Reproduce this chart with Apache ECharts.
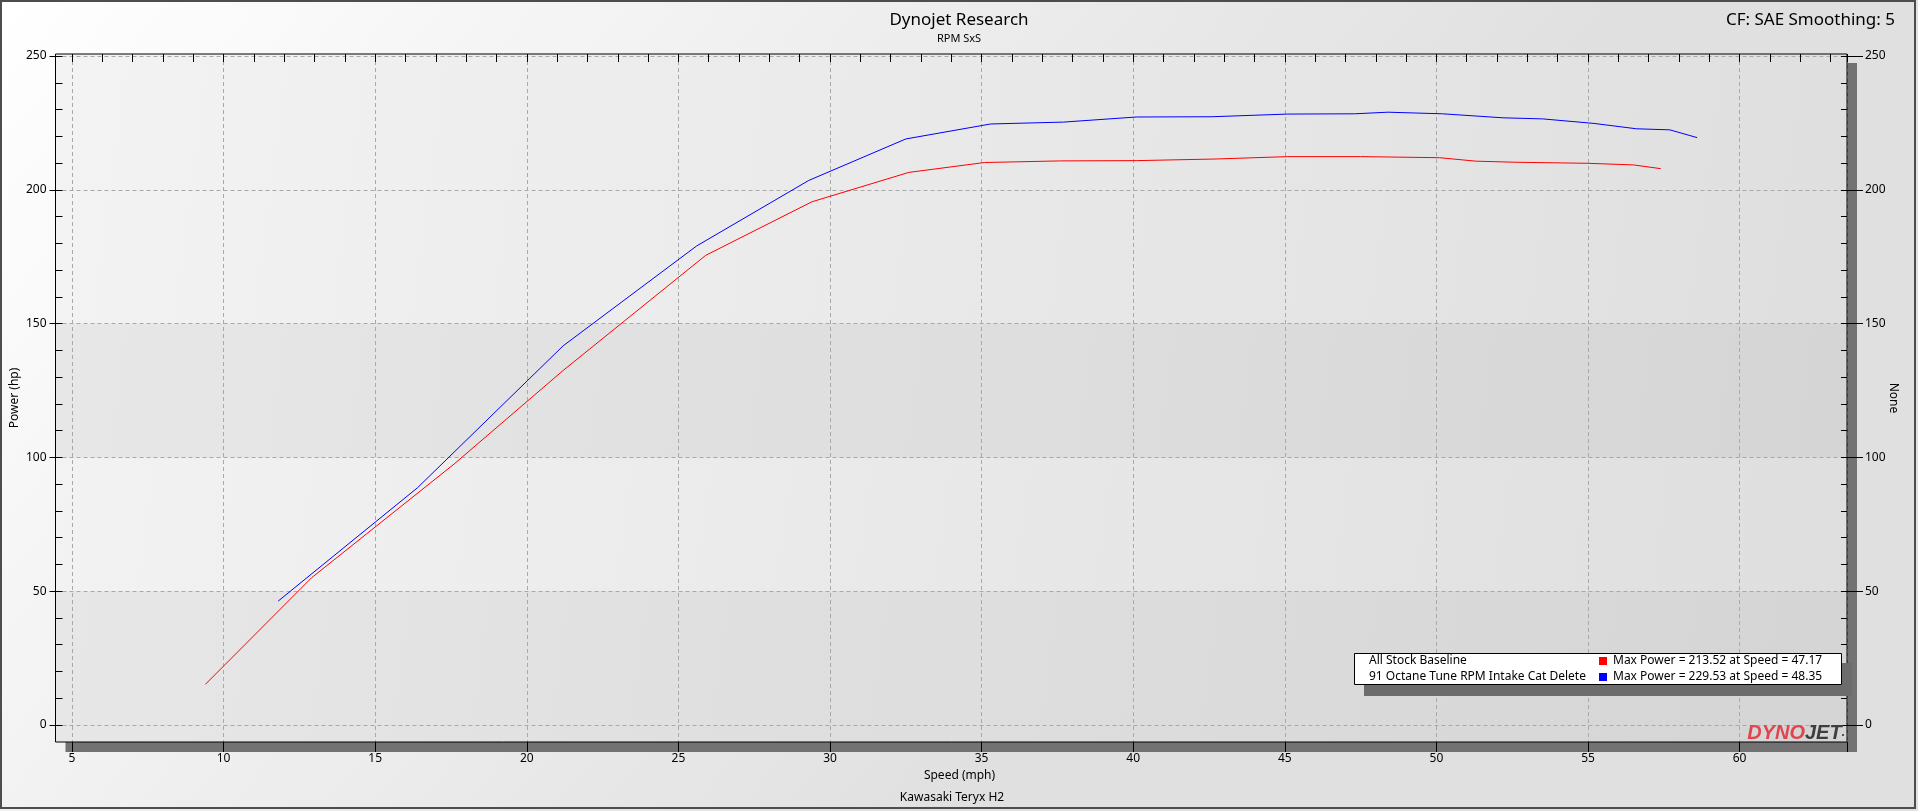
<!DOCTYPE html>
<html><head><meta charset="utf-8">
<script src="https://cdn.jsdelivr.net/npm/echarts@6/dist/echarts.min.js"></script>
<style>html,body{margin:0;padding:0;width:1918px;height:811px;overflow:hidden;}#c{width:1918px;height:811px;}</style>
</head><body><div id="c"></div>
<script>
// ---- data ----
const chartTitle = 'Dynojet Research';
const chartSubtitle = 'RPM SxS';
const cornerNote = 'CF: SAE Smoothing: 5';
const footerText = 'Kawasaki Teryx H2';
const xName = 'Speed (mph)';
const yName = 'Power (hp)';
const y2Name = 'None';
const seriesNames = ['All Stock Baseline', '91 Octane Tune RPM Intake Cat Delete'];
const maxNotes = ['Max Power = 213.52 at Speed = 47.17', 'Max Power = 229.53 at Speed = 48.35'];
const seriesColors = ['#ff0000', '#0000ff'];
const xTickLabels = [5, 10, 15, 20, 25, 30, 35, 40, 45, 50, 55, 60];
const yTickLabels = [0, 50, 100, 150, 200, 250];

const stockSpeed = [9.4, 12.9, 17.6, 21.2, 25.9, 29.4, 32.6, 35.1, 37.6, 40.1, 42.7, 45.1, 47.5, 50.1, 51.3, 52.6, 55.0, 56.5, 57.4];
const stockPower = [15.2, 55.0, 97.5, 132.5, 175.5, 195.5, 206.5, 210.2, 210.8, 210.9, 211.5, 212.4, 212.4, 212.0, 210.7, 210.3, 209.9, 209.3, 207.9];
const tuneSpeed = [11.8, 16.4, 21.2, 25.6, 29.3, 32.5, 35.3, 37.7, 40.1, 42.6, 45.1, 47.3, 48.4, 50.2, 52.2, 53.5, 55.2, 56.6, 57.7, 58.6];
const tunePower = [46.3, 88.7, 141.7, 179.0, 203.5, 219.0, 224.6, 225.3, 227.2, 227.3, 228.3, 228.4, 229.0, 228.4, 226.9, 226.5, 224.8, 222.8, 222.4, 219.5];

// ---- layout ----
const FONT = "'Noto Sans', 'Liberation Sans', sans-serif";
const PL = 55.5, PR = 1847, PT = 54, PB = 742;   // plot frame
const X5 = 72, PXU = 30.32;                      // x=5 position and px per mph
const YT = 56, YB = 725;                         // y=250 and y=0 positions
const xMaxV = 5 + (PR - X5) / PXU;
const xMinData = 5 - (X5 - PL) / PXU;

const zip = (a, b) => a.map((v, i) => [v, b[i]]);

const chart = echarts.init(document.getElementById('c'), null, { renderer: 'canvas' });

const dashed = { color: '#a9a9a9', width: 1, type: [4, 3] };
const DARK = 'rgba(0,0,0,0.045)', LIGHT = 'rgba(0,0,0,0)';

const option = {
  animation: false,
  backgroundColor: {
    type: 'linear', x: 0, y: 0, x2: 0.5, y2: 1,
    colorStops: [{ offset: 0, color: '#ffffff' }, { offset: 1, color: '#e0e0e0' }]
  },
  grid: [
    { left: X5, top: PT, width: PR - X5, height: PB - PT, containLabel: false },
    { left: PL, top: YT, width: PR - PL, height: YB - YT, containLabel: false }
  ],
  xAxis: [
    { gridIndex: 0, type: 'value', min: 5, max: xMaxV, interval: 5,
      axisLine: { show: false },
      axisTick: { show: true, inside: false, length: 10, lineStyle: { color: '#000', width: 1 } },
      axisLabel: { show: true, margin: 11, color: '#000', fontSize: 12, fontFamily: FONT,
        formatter: v => (xTickLabels.indexOf(Math.round(v)) >= 0 && Math.abs(v - Math.round(v)) < 1e-6) ? String(Math.round(v)) : '' },
      splitLine: { show: true, lineStyle: dashed },
      name: xName, nameLocation: 'middle', nameGap: 24,
      nameTextStyle: { color: '#000', fontSize: 12, fontFamily: FONT }
    },
    { gridIndex: 0, type: 'value', min: 5, max: xMaxV, interval: 1,
      axisLine: { show: false },
      axisTick: { show: true, inside: true, length: 8, lineStyle: { color: '#000', width: 1 } },
      axisLabel: { show: false }, splitLine: { show: false }
    },
    { gridIndex: 1, type: 'value', min: xMinData, max: xMaxV, show: false }
  ],
  yAxis: [
    { gridIndex: 0, type: 'value', min: 0, max: 1, show: false },
    { gridIndex: 1, type: 'value', position: 'left', min: 0, max: 250, interval: 50,
      axisLine: { show: false },
      axisTick: { show: true, inside: false, length: 6, lineStyle: { color: '#000' } },
      axisLabel: { show: true, margin: 9, color: '#000', fontSize: 12, fontFamily: FONT },
      splitLine: { show: true, lineStyle: dashed },
      splitArea: { show: true, areaStyle: { color: [DARK, LIGHT, DARK, LIGHT, LIGHT] } }
    },
    { gridIndex: 1, type: 'value', position: 'left', min: 0, max: 250, interval: 10,
      axisLine: { show: false },
      axisTick: { show: true, inside: true, length: 7, lineStyle: { color: '#000' } },
      axisLabel: { show: false }, splitLine: { show: false }
    },
    { gridIndex: 1, type: 'value', position: 'right', min: 0, max: 250, interval: 50,
      axisLine: { show: false },
      axisTick: { show: true, inside: false, length: 16, lineStyle: { color: '#000' } },
      axisLabel: { show: true, margin: 18, color: '#000', fontSize: 12, fontFamily: FONT },
      splitLine: { show: false }
    },
    { gridIndex: 1, type: 'value', position: 'right', min: 0, max: 250, interval: 10,
      axisLine: { show: false },
      axisTick: { show: true, inside: true, length: 6, lineStyle: { color: '#000' } },
      axisLabel: { show: false }, splitLine: { show: false }
    }
  ],
  series: [
    { name: seriesNames[0], type: 'line', xAxisIndex: 2, yAxisIndex: 1, data: zip(stockSpeed, stockPower),
      showSymbol: false, symbol: 'none', lineStyle: { color: seriesColors[0], width: 1 }, z: 5 },
    { name: seriesNames[1], type: 'line', xAxisIndex: 2, yAxisIndex: 1, data: zip(tuneSpeed, tunePower),
      showSymbol: false, symbol: 'none', lineStyle: { color: seriesColors[1], width: 1 }, z: 5 }
  ],
  graphic: [
    // outer border
    { type: 'rect', z: -20, shape: { x: 1, y: 1, width: 1914, height: 807 },
      style: { fill: 'none', stroke: '#4d4d4d', lineWidth: 2 } },
    // plot shadow
    { type: 'rect', z: -20, shape: { x: PL + 10, y: PT + 9, width: PR - PL, height: PB - PT + 1 },
      style: { fill: '#727272' } },
    // plot background
    { type: 'rect', z: -19, shape: { x: PL, y: PT, width: PR - PL, height: PB - PT },
      style: { fill: { type: 'linear', x: 0, y: 0, x2: 1, y2: 0.35, global: false,
        colorStops: [{ offset: 0, color: '#f3f3f3' }, { offset: 1, color: '#dfdfdf' }] } } },
    // bottom strip below zero continues the dark band
    { type: 'rect', z: -18, shape: { x: PL, y: YB, width: PR - PL, height: PB - YB },
      style: { fill: DARK } },
    // plot border
    { type: 'rect', z: 50, shape: { x: PL, y: PT, width: PR - PL, height: PB - PT },
      style: { fill: 'none', stroke: '#000', lineWidth: 1 } },
    // titles
    { type: 'text', z: 60, style: { text: chartTitle, x: 959, y: 20, textAlign: 'center', textVerticalAlign: 'middle',
      font: '17px ' + FONT, fill: '#000' } },
    { type: 'text', z: 60, style: { text: chartSubtitle, x: 959, y: 39, textAlign: 'center', textVerticalAlign: 'middle',
      font: '11px ' + FONT, fill: '#000' } },
    { type: 'text', z: 60, style: { text: cornerNote, x: 1895, y: 20, textAlign: 'right', textVerticalAlign: 'middle',
      font: '17px ' + FONT, fill: '#000' } },
    { type: 'text', z: 60, style: { text: footerText, x: 952, y: 798, textAlign: 'center', textVerticalAlign: 'middle',
      font: '12px ' + FONT, fill: '#000' } },
    { type: 'text', z: 60, x: 15, y: 398, rotation: Math.PI / 2,
      style: { text: yName, x: 0, y: 0, textAlign: 'center', textVerticalAlign: 'middle', font: '12px ' + FONT, fill: '#000' } },
    { type: 'text', z: 60, x: 1893, y: 398, rotation: -Math.PI / 2,
      style: { text: y2Name, x: 0, y: 0, textAlign: 'center', textVerticalAlign: 'middle', font: '12px ' + FONT, fill: '#000' } },
    // legend box
    { type: 'rect', z: 70, shape: { x: 1364, y: 663, width: 488, height: 33 }, style: { fill: '#6c6c6c' } },
    { type: 'rect', z: 71, shape: { x: 1354.5, y: 653.5, width: 487, height: 31 }, style: { fill: '#fff', stroke: '#000', lineWidth: 1 } },
    { type: 'text', z: 72, style: { text: seriesNames[0], x: 1369, y: 661, textVerticalAlign: 'middle', font: '12px ' + FONT, fill: '#000' } },
    { type: 'text', z: 72, style: { text: seriesNames[1], x: 1369, y: 677, textVerticalAlign: 'middle', font: '12px ' + FONT, fill: '#000' } },
    { type: 'rect', z: 72, shape: { x: 1599, y: 657, width: 8, height: 8 }, style: { fill: seriesColors[0] } },
    { type: 'rect', z: 72, shape: { x: 1599, y: 673, width: 8, height: 8 }, style: { fill: seriesColors[1] } },
    { type: 'text', z: 72, style: { text: maxNotes[0], x: 1613, y: 661, textVerticalAlign: 'middle', font: '12px ' + FONT, fill: '#000' } },
    { type: 'text', z: 72, style: { text: maxNotes[1], x: 1613, y: 677, textVerticalAlign: 'middle', font: '12px ' + FONT, fill: '#000' } },
    // logo
    { type: 'text', z: 72, style: { text: '{a|DYNO}{b|JET}{c|.}', x: 1845, y: 733, textAlign: 'right', textVerticalAlign: 'middle',
      font: 'italic 900 20px "Liberation Sans", sans-serif',
      rich: {
        a: { fill: '#e0454f', font: 'italic 900 20px "Liberation Sans", sans-serif' },
        b: { fill: '#3e3e3e', font: 'italic 900 20px "Liberation Sans", sans-serif' },
        c: { fill: '#3e3e3e', font: 'italic 900 12px "Liberation Sans", sans-serif' }
      } } }
  ]
};
chart.setOption(option);
</script>
</body></html>
